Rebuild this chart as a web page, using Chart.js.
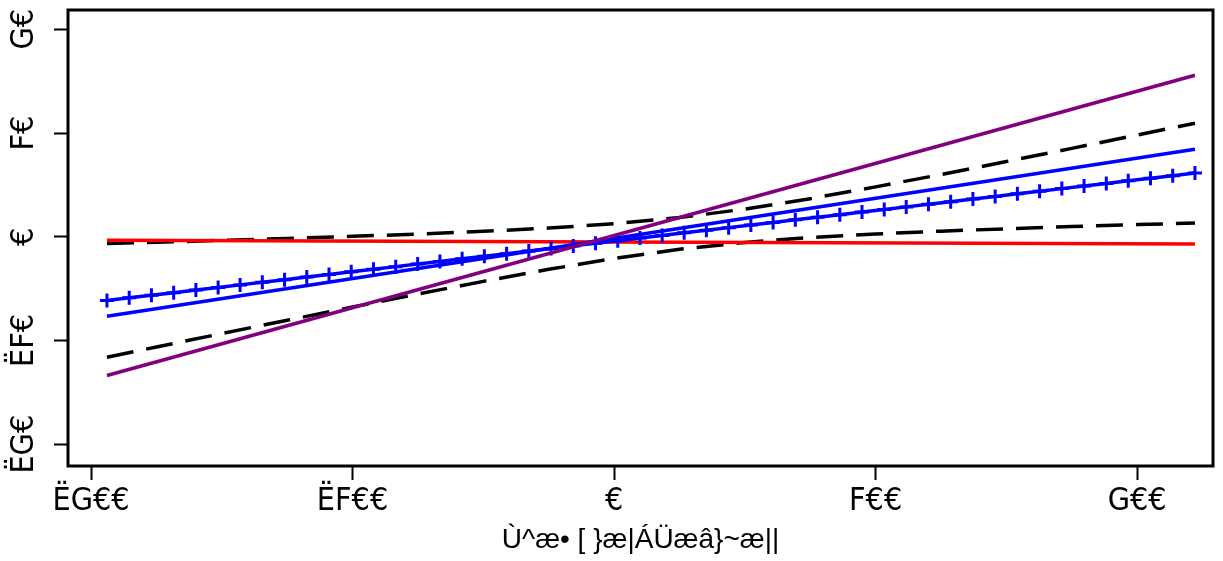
<!DOCTYPE html>
<html>
<head>
<meta charset="utf-8">
<script src="https://cdn.jsdelivr.net/npm/chart.js@4.4.1/dist/chart.umd.min.js"></script>
<style>
  html, body { margin: 0; padding: 0; background: #fff; }
  #wrap { width: 1223px; height: 561px; }
</style>
</head>
<body>
<div id="wrap"><canvas id="chart" width="1223" height="561"></canvas></div>
<script>
// axis ticks (labels kept exactly as they appear in the picture)
const xTickValues = [-200, -100, 0, 100, 200];
const xTickLabels = ["ËG€€", "ËF€€", "€", "F€€", "G€€"];
const yTickValues = [-20, -10, 0, 10, 20];
const yTickLabels = ["ËG€", "ËF€", "€", "F€", "G€"];
const xTitle = "Ù^æ• [ }æ|ÁÜæâ}~æ||";

// straight lines: x at both ends
const lineX = [-193.9, 222.1];
const purpleY = [-13.38, 15.57];
const blueY = [-7.67, 8.43];
const redY = [-0.33, -0.71];

// dashed band (curved), read at these x positions
const bandX = [-193.9, -175, -150, -125, -100, -75, -50, -25, 0, 25, 50, 75, 100, 125, 150, 175, 200, 222.1];
const upperDashY = [-0.66, -0.53, -0.35, -0.17, 0.04, 0.26, 0.52, 0.84, 1.25, 1.85, 2.67, 3.67, 4.81, 6.00, 7.25, 8.52, 9.81, 10.95];
const lowerDashY = [-11.62, -10.63, -9.33, -8.05, -6.78, -5.52, -4.30, -3.14, -2.09, -1.21, -0.55, -0.07, 0.27, 0.54, 0.77, 0.98, 1.17, 1.33];

// blue line with + markers
const crossX = [-193.9, -185.4, -176.9, -168.4, -159.9, -151.4, -143.0, -134.5, -126.0, -117.5,
  -109.0, -100.5, -92.0, -83.5, -75.1, -66.6, -58.1, -49.6, -41.1, -32.6,
  -24.1, -15.6, -7.1, 1.4, 9.9, 18.4, 26.8, 35.3, 43.8, 52.3,
  60.8, 69.3, 77.8, 86.3, 94.8, 103.3, 111.7, 120.2, 128.7, 137.2,
  145.7, 154.2, 162.7, 171.2, 179.7, 188.2, 196.6, 205.1, 213.6, 222.1];
const crossY = [-6.14, -5.89, -5.64, -5.39, -5.14, -4.89, -4.64, -4.39, -4.14, -3.89,
  -3.63, -3.38, -3.13, -2.88, -2.63, -2.38, -2.13, -1.88, -1.63, -1.38,
  -1.13, -0.88, -0.63, -0.38, -0.13, 0.13, 0.38, 0.63, 0.88, 1.13,
  1.38, 1.63, 1.88, 2.13, 2.38, 2.63, 2.88, 3.13, 3.38, 3.63,
  3.89, 4.14, 4.39, 4.64, 4.89, 5.14, 5.39, 5.64, 5.89, 6.14];

function pts(xs, ys) {
  return xs.map((x, i) => ({ x: x, y: ys[i] }));
}

// box around the plot region
const frame = {
  id: "frame",
  afterDraw(chart) {
    const a = chart.chartArea;
    const ctx = chart.ctx;
    ctx.save();
    ctx.strokeStyle = "#000";
    ctx.lineWidth = 3;
    ctx.strokeRect(a.left, a.top, a.right - a.left, a.bottom - a.top);
    ctx.restore();
  }
};

const tickFont = { family: "'DejaVu Sans Condensed', 'DejaVu Sans'", size: 32 };

function noPad(scale) {
  scale.paddingTop = 0;
  scale.paddingBottom = 0;
  scale.paddingLeft = 0;
  scale.paddingRight = 0;
}

new Chart(document.getElementById("chart"), {
  type: "line",
  data: {
    datasets: [
      { data: pts(lineX, purpleY), borderColor: "#800080", borderWidth: 3.5, pointRadius: 0 },
      { data: pts(crossX, crossY), borderColor: "#0000ff", borderWidth: 3.5, pointStyle: "cross",
        pointRadius: 7, pointBorderWidth: 3, pointBorderColor: "#0000ff", pointBackgroundColor: "#0000ff" },
      { data: pts(lineX, blueY), borderColor: "#0000ff", borderWidth: 3.5, pointRadius: 0 },
      { data: pts(lineX, redY), borderColor: "#ff0000", borderWidth: 3.5, pointRadius: 0 },
      { data: pts(bandX, upperDashY), borderColor: "#000", borderWidth: 3.5, borderDash: [27, 13], pointRadius: 0 },
      { data: pts(bandX, lowerDashY), borderColor: "#000", borderWidth: 3.5, borderDash: [27, 13], pointRadius: 0 }
    ]
  },
  options: {
    responsive: false,
    animation: false,
    layout: { padding: { top: 5, right: 9, left: 0, bottom: 0 } },
    plugins: { legend: { display: false }, tooltip: { enabled: false } },
    elements: { line: { tension: 0, borderCapStyle: "butt" } },
    scales: {
      x: {
        type: "linear",
        min: -208.8,
        max: 229,
        grid: { drawOnChartArea: false, tickLength: 14, tickWidth: 2, tickColor: "#000" },
        border: { display: false },
        afterBuildTicks(scale) { scale.ticks = xTickValues.map(v => ({ value: v })); },
        afterFit(scale) { scale.height = 95; noPad(scale); },
        ticks: {
          color: "#000",
          font: tickFont,
          padding: 2,
          maxRotation: 0,
          autoSkip: false,
          callback: (v) => xTickLabels[xTickValues.indexOf(v)]
        },
        title: {
          display: true,
          text: xTitle,
          color: "#000",
          font: { family: "'Liberation Sans', Arial", size: 28 },
          padding: { top: 3, bottom: 4 }
        }
      },
      y: {
        type: "linear",
        min: -22.1,
        max: 21.86,
        grid: { drawOnChartArea: false, tickLength: 14, tickWidth: 2, tickColor: "#000" },
        border: { display: false },
        afterBuildTicks(scale) { scale.ticks = yTickValues.map(v => ({ value: v })); },
        afterFit(scale) { scale.width = 68; noPad(scale); },
        ticks: {
          color: "#000",
          font: tickFont,
          padding: 0,
          minRotation: 90,
          maxRotation: 90,
          crossAlign: "center",
          autoSkip: false,
          callback: (v) => yTickLabels[yTickValues.indexOf(v)]
        }
      }
    }
  },
  plugins: [frame]
});
</script>
</body>
</html>
